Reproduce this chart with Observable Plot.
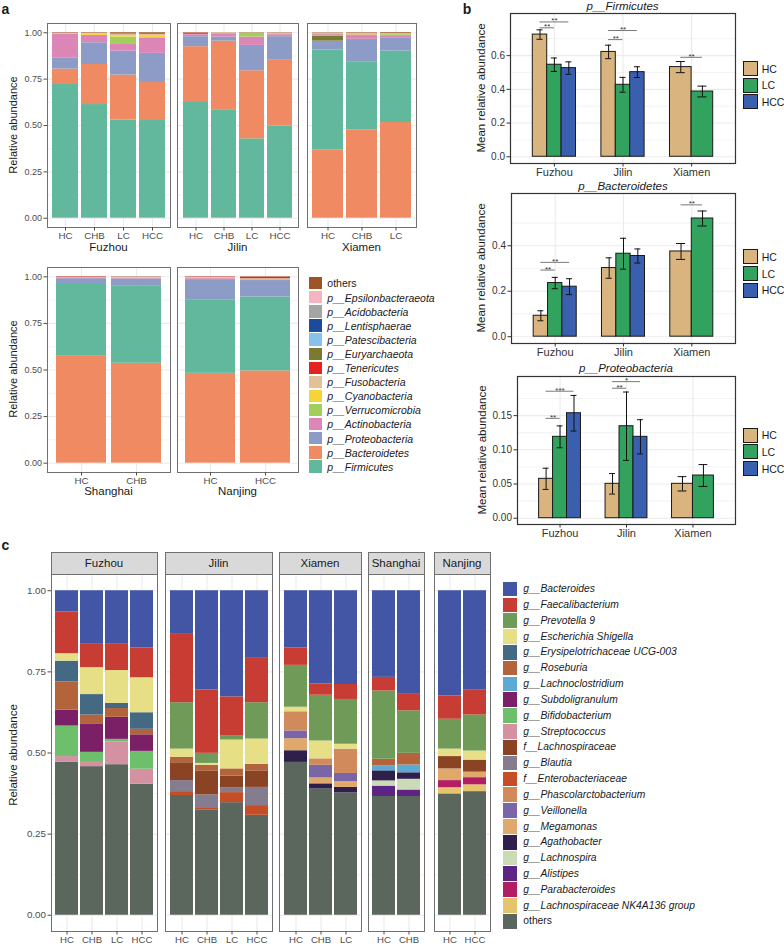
<!DOCTYPE html>
<html><head><meta charset="utf-8">
<script src="https://cdn.jsdelivr.net/npm/d3@7"></script>
<script src="https://cdn.jsdelivr.net/npm/@observablehq/plot@0.6"></script>
<style>
html,body{margin:0;padding:0;background:#fff;}
#root{position:relative;width:784px;height:947px;overflow:hidden;font-family:'Liberation Sans',Arial,Helvetica,sans-serif;color:#1a1a1a;background:#fff;}
#root svg{position:absolute;background:transparent;max-width:none;overflow:visible;}
.t{position:absolute;white-space:nowrap;line-height:1;}
.b{position:absolute;box-sizing:border-box;}
</style></head><body><div id="root"></div>
<script>
// ---------------- data: panel a (phylum) ----------------
const phylumLegend = ["others","p__Epsilonbacteraeota","p__Acidobacteria","p__Lentisphaerae","p__Patescibacteria","p__Euryarchaeota","p__Tenericutes","p__Fusobacteria","p__Cyanobacteria","p__Verrucomicrobia","p__Actinobacteria","p__Proteobacteria","p__Bacteroidetes","p__Firmicutes"];
const phylumColors = ["#9e5526","#f4b4c0","#a5a5a5","#1d4b9c","#86c3ea","#7a7a30","#e5221f","#e2c196","#f6d437","#a2cf5a","#dc86b8","#8d9cc7","#ef8a62","#62b89c"];

const aFuzhouGroups = ["HC","CHB","LC","HCC"];
const aFuzhouTaxa = ["p__Firmicutes","p__Bacteroidetes","p__Proteobacteria","p__Actinobacteria","p__Verrucomicrobia","p__Cyanobacteria","p__Fusobacteria","others"];
const aFuzhouValues = [
  [0.721,0.083,0.061,0.126,0.000,0.000,0.006,0.003],
  [0.613,0.216,0.117,0.040,0.000,0.006,0.005,0.003],
  [0.529,0.243,0.129,0.040,0.036,0.008,0.008,0.007],
  [0.527,0.205,0.157,0.082,0.004,0.010,0.007,0.008]];

const aJilinGroups = ["HC","CHB","LC","HCC"];
const aJilinTaxa = ["p__Firmicutes","p__Bacteroidetes","p__Proteobacteria","p__Actinobacteria","p__Verrucomicrobia","p__Fusobacteria","p__Tenericutes","others"];
const aJilinValues = [
  [0.624,0.301,0.054,0.011,0.000,0.002,0.006,0.002],
  [0.585,0.370,0.022,0.018,0.000,0.004,0.000,0.001],
  [0.428,0.367,0.137,0.045,0.021,0.000,0.000,0.002],
  [0.497,0.358,0.124,0.011,0.000,0.008,0.000,0.002]];

const aXiamenGroups = ["HC","CHB","LC"];
const aXiamenTaxa = ["p__Bacteroidetes","p__Firmicutes","p__Proteobacteria","p__Euryarchaeota","p__Actinobacteria","p__Verrucomicrobia","p__Fusobacteria","others"];
const aXiamenValues = [
  [0.367,0.540,0.048,0.027,0.008,0.005,0.003,0.002],
  [0.475,0.369,0.117,0.004,0.020,0.000,0.012,0.003],
  [0.516,0.385,0.072,0.000,0.007,0.010,0.006,0.004]];

const aShanghaiGroups = ["HC","CHB"];
const aShanghaiTaxa = ["p__Bacteroidetes","p__Firmicutes","p__Proteobacteria","p__Actinobacteria","p__Fusobacteria","p__Tenericutes","others"];
const aShanghaiValues = [
  [0.577,0.387,0.026,0.004,0.002,0.003,0.001],
  [0.536,0.413,0.039,0.004,0.006,0.000,0.002]];

const aNanjingGroups = ["HC","HCC"];
const aNanjingTaxa = ["p__Bacteroidetes","p__Firmicutes","p__Proteobacteria","p__Actinobacteria","p__Fusobacteria","p__Tenericutes","others"];
const aNanjingValues = [
  [0.482,0.392,0.111,0.005,0.007,0.002,0.001],
  [0.495,0.397,0.088,0.004,0.006,0.008,0.002]];

// ---------------- data: panel b (means ± error) ----------------
const bCities = ["Fuzhou","Jilin","Xiamen"];
const bGroups = ["HC","LC","HCC"];
const bColors = ["#d9b47e","#31a35e","#3b5faf"];
const firmicutesMean = [[0.725,0.546,0.526],[0.622,0.427,0.502],[0.532,0.387,null]];
const firmicutesErr  = [[0.028,0.040,0.037],[0.040,0.044,0.032],[0.033,0.032,null]];
const firmicutesSig  = [[0,"HC","LC",0.765,"**"],[0,"HC","HCC",0.800,"**"],[1,"HC","LC",0.695,"**"],[1,"HC","HCC",0.749,"**"],[2,"HC","LC",0.590,"**"]];
const bacteroidetesMean = [[0.092,0.236,0.220],[0.302,0.365,0.355],[0.375,0.520,null]];
const bacteroidetesErr  = [[0.022,0.025,0.035],[0.045,0.068,0.031],[0.035,0.033,null]];
const bacteroidetesSig  = [[0,"HC","LC",0.293,"**"],[0,"HC","HCC",0.327,"**"],[2,"HC","LC",0.580,"**"]];
const proteobacteriaMean = [[0.0576,0.1190,0.1535],[0.0503,0.1345,0.1190],[0.0503,0.0624,null]];
const proteobacteriaErr  = [[0.0155,0.0160,0.0260],[0.0150,0.0500,0.0250],[0.0105,0.0160,null]];
const proteobacteriaSig  = [[0,"HC","LC",0.146,"**"],[0,"HC","HCC",0.1857,"***"],[1,"HC","LC",0.190,"**"],[1,"HC","HCC",0.1997,"*"]];

// ---------------- data: panel c (genus) ----------------
const genusLegend = ["g__Bacteroides","g__Faecalibacterium","g__Prevotella 9","g__Escherichia Shigella","g__Erysipelotrichaceae UCG-003","g__Roseburia","g__Lachnoclostridium","g__Subdoligranulum","g__Bifidobacterium","g__Streptococcus","f__Lachnospiraceae","g__Blautia","f__Enterobacteriaceae","g__Phascolarctobacterium","g__Veillonella","g__Megamonas","g__Agathobacter","g__Lachnospira","g__Alistipes","g__Parabacteroides","g__Lachnospiraceae NK4A136 group","others"];
const genusColors = ["#4356a6","#c73d33","#6f9a57","#e7df86","#456883","#b4643a","#5aaad5","#7b1f66","#6dbf6b","#d491a1","#8b4423","#857c8f","#c64e26","#d08a5b","#7a66a6","#e0a96b","#2f1f4b","#cadbb5","#5e2485","#b21e63","#e4c46d","#5b665d"];

const cFuzhouGroups = ["HC","CHB","LC","HCC"];
const cFuzhouTaxa = ["others","g__Streptococcus","g__Bifidobacterium","g__Subdoligranulum","g__Roseburia","g__Erysipelotrichaceae UCG-003","g__Escherichia Shigella","g__Faecalibacterium","g__Bacteroides"];
const cFuzhouValues = [
  [0.472,0.017,0.094,0.049,0.087,0.064,0.023,0.129,0.065],
  [0.458,0.013,0.031,0.086,0.029,0.063,0.083,0.074,0.163],
  [0.464,0.070,0.008,0.068,0.027,0.016,0.101,0.081,0.165],
  [0.404,0.046,0.055,0.051,0.017,0.051,0.108,0.092,0.176]];

const cJilinGroups = ["HC","CHB","LC","HCC"];
const cJilinTaxa = ["others","f__Enterobacteriaceae","g__Blautia","f__Lachnospiraceae","g__Roseburia","g__Escherichia Shigella","g__Prevotella 9","g__Faecalibacterium","g__Bacteroides"];
const cJilinValues = [
  [0.369,0.012,0.034,0.055,0.017,0.025,0.143,0.213,0.132],
  [0.325,0.004,0.042,0.074,0.017,0.006,0.031,0.195,0.306],
  [0.347,0.031,0.014,0.037,0.022,0.089,0.012,0.121,0.327],
  [0.308,0.030,0.056,0.051,0.020,0.078,0.112,0.139,0.206]];

const cXiamenGroups = ["HC","CHB","LC"];
const cXiamenTaxa = ["others","g__Agathobacter","g__Megamonas","g__Veillonella","g__Phascolarctobacterium","g__Escherichia Shigella","g__Prevotella 9","g__Faecalibacterium","g__Bacteroides"];
const cXiamenValues = [
  [0.471,0.036,0.037,0.024,0.059,0.014,0.129,0.054,0.176],
  [0.389,0.016,0.018,0.039,0.020,0.055,0.141,0.035,0.287],
  [0.377,0.017,0.018,0.025,0.075,0.015,0.138,0.046,0.289]];

const cShanghaiGroups = ["HC","CHB"];
const cShanghaiTaxa = ["others","g__Alistipes","g__Lachnospira","g__Agathobacter","g__Lachnoclostridium","g__Roseburia","g__Prevotella 9","g__Faecalibacterium","g__Bacteroides"];
const cShanghaiValues = [
  [0.366,0.032,0.016,0.031,0.016,0.020,0.210,0.042,0.267],
  [0.366,0.020,0.033,0.020,0.024,0.036,0.131,0.053,0.317]];

const cNanjingGroups = ["HC","HCC"];
const cNanjingTaxa = ["others","g__Lachnospiraceae NK4A136 group","g__Parabacteroides","g__Megamonas","f__Lachnospiraceae","g__Escherichia Shigella","g__Prevotella 9","g__Faecalibacterium","g__Bacteroides"];
const cNanjingValues = [
  [0.374,0.019,0.022,0.036,0.038,0.023,0.092,0.072,0.324],
  [0.381,0.021,0.022,0.017,0.037,0.028,0.111,0.078,0.305]];

const stackTicks = [0, 0.25, 0.5, 0.75, 1];
const stackMinor = [0.125, 0.375, 0.625, 0.875];

// ---------------- helpers ----------------
const FONT = "'Liberation Sans', Arial, Helvetica, sans-serif";
const GRID = "#ebebeb";
const root = document.getElementById("root");

function txt(s, x, y, o = {}) {
  const d = document.createElement("div");
  d.className = "t";
  d.textContent = s;
  d.style.left = x + "px";
  d.style.top = y + "px";
  d.style.fontSize = (o.size || 11) + "px";
  if (o.weight) d.style.fontWeight = o.weight;
  if (o.italic) d.style.fontStyle = "italic";
  d.style.color = o.color || "#1a1a1a";
  const ax = o.anchor === "start" ? "0" : "-50%";
  d.style.transform = `translate(${ax}, -50%)` + (o.rotate ? ` rotate(${o.rotate}deg)` : "");
  root.appendChild(d);
}
function box(x, y, w, h, fill, border) {
  const d = document.createElement("div");
  d.className = "b";
  Object.assign(d.style, {left: x + "px", top: y + "px", width: w + "px", height: h + "px", background: fill});
  if (border) d.style.border = border;
  root.appendChild(d);
}
function put(svg, left, top) {
  svg.style.left = left + "px";
  svg.style.top = top + "px";
  root.appendChild(svg);
}

function stackPanel(groups, taxa, values, frame, showY, o) {
  const [x0, y0, x1, y1] = frame;
  const rows = [];
  groups.forEach((g, i) => taxa.forEach((t, j) => rows.push({group: g, taxon: t, value: values[i][j]})));
  const ml = showY ? 46 : 3, mr = 3, mt = 3, mb = 18;
  const svg = Plot.plot({
    width: x1 - x0 + ml + mr, height: y1 - y0 + mt + mb,
    marginLeft: ml, marginRight: mr, marginTop: mt, marginBottom: mb,
    style: {fontFamily: FONT, background: "transparent", overflow: "visible"},
    x: {domain: groups, paddingInner: 0.1, paddingOuter: 0.15},
    y: showY ? {domain: [-0.05, 1.05]} : {domain: [-0.05, 1.05], axis: null},
    color: {domain: o.legend, range: o.colors},
    marks: [
      Plot.ruleY(stackMinor, {stroke: GRID, strokeWidth: 0.6}),
      Plot.ruleY(stackTicks, {stroke: GRID, strokeWidth: 1.1}),
      Plot.ruleX(groups, {stroke: GRID, strokeWidth: 1.1}),
      Plot.barY(rows, {x: "group", y: "value", fill: "taxon", order: taxa}),
      Plot.frame({stroke: o.frameColor, strokeWidth: 1}),
      Plot.axisX({tickSize: 3.5, tickPadding: 1.5, fontSize: o.xFont, color: "#4d4d4d", label: null}),
      showY ? Plot.axisY(stackTicks, {tickSize: 3.5, tickPadding: 2, fontSize: o.yFont, color: "#4d4d4d", tickFormat: d3.format(".2f"), label: null}) : null
    ]
  });
  put(svg, x0 - ml, y0 - mt);
}

function meanPanel(means, errs, sig, frame, yDomain, ticks, minor, fmt) {
  const [x0, y0, x1, y1] = frame;
  const rows = [];
  means.forEach((arr, ci) => {
    const n = arr.filter(v => v != null).length;
    const w = 0.63 / n;
    let k = 0;
    bGroups.forEach((g, j) => {
      if (arr[j] == null) return;
      const a = ci + 1 - 0.315 + k * w;
      rows.push({city: bCities[ci], group: g, mean: arr[j], err: errs[ci][j], x1: a, x2: a + w, xc: a + w / 2, cap: w * 0.21});
      k++;
    });
  });
  const center = (ci, g) => rows.find(r => r.city === bCities[ci] && r.group === g).xc;
  const sigRows = sig.map(([ci, a, b, level, label]) => ({xa: center(ci, a), xb: center(ci, b), level, label}));
  const ml = 34, mr = 3, mt = 3, mb = 22;
  const svg = Plot.plot({
    width: x1 - x0 + ml + mr, height: y1 - y0 + mt + mb,
    marginLeft: ml, marginRight: mr, marginTop: mt, marginBottom: mb,
    style: {fontFamily: FONT, background: "transparent", overflow: "visible"},
    x: {type: "linear", domain: [0.36, 3.64]},
    y: {domain: yDomain},
    color: {domain: bGroups, range: bColors},
    marks: [
      Plot.ruleY(minor, {stroke: GRID, strokeWidth: 0.6}),
      Plot.ruleY(ticks, {stroke: GRID, strokeWidth: 1.1}),
      Plot.ruleX([1, 2, 3], {stroke: GRID, strokeWidth: 1.1}),
      Plot.rect(rows, {x1: "x1", x2: "x2", y1: 0, y2: "mean", fill: "group", stroke: "#1a1a1a", strokeWidth: 1}),
      Plot.ruleX(rows, {x: "xc", y1: d => d.mean - d.err, y2: d => d.mean + d.err, stroke: "#111", strokeWidth: 1}),
      Plot.ruleY(rows, {y: d => d.mean + d.err, x1: d => d.xc - d.cap, x2: d => d.xc + d.cap, stroke: "#111", strokeWidth: 1}),
      Plot.ruleY(rows, {y: d => d.mean - d.err, x1: d => d.xc - d.cap, x2: d => d.xc + d.cap, stroke: "#111", strokeWidth: 1}),
      Plot.ruleY(sigRows, {y: "level", x1: "xa", x2: "xb", stroke: "#555", strokeWidth: 0.8}),
      Plot.text(sigRows, {x: d => (d.xa + d.xb) / 2, y: "level", text: "label", lineAnchor: "middle", dy: -1, fontSize: 8, fill: "#333"}),
      Plot.frame({stroke: "#333", strokeWidth: 1.2}),
      Plot.axisX([1, 2, 3], {tickFormat: i => bCities[i - 1], tickSize: 3.5, tickPadding: 1, fontSize: 11, color: "#333", label: null}),
      Plot.axisY(ticks, {tickFormat: d3.format(fmt), tickSize: 3.5, tickPadding: 2, fontSize: 10, color: "#333", label: null})
    ]
  });
  put(svg, x0 - ml, y0 - mt);
}

// ---------------- panel a ----------------
const aOpts = {legend: phylumLegend, colors: phylumColors, frameColor: "#707070", xFont: 9.8, yFont: 9};
stackPanel(aFuzhouGroups, aFuzhouTaxa, aFuzhouValues, [47, 23, 170, 227], true, aOpts);
stackPanel(aJilinGroups, aJilinTaxa, aJilinValues, [177, 23, 298, 227], false, aOpts);
stackPanel(aXiamenGroups, aXiamenTaxa, aXiamenValues, [307, 23, 416, 227], false, aOpts);
stackPanel(aShanghaiGroups, aShanghaiTaxa, aShanghaiValues, [47, 267, 170, 472], true, aOpts);
stackPanel(aNanjingGroups, aNanjingTaxa, aNanjingValues, [177, 267, 298, 472], false, aOpts);
txt("Fuzhou", 108.5, 247.5, {size: 11.5});
txt("Jilin", 237.5, 247.5, {size: 11.5});
txt("Xiamen", 361.5, 247.5, {size: 11.5});
txt("Shanghai", 108.5, 491.5, {size: 11.5});
txt("Nanjing", 237.5, 491.5, {size: 11.5});
txt("Relative abundance", 13, 125, {size: 11, rotate: -90});
txt("Relative abundance", 13, 369, {size: 11, rotate: -90});
phylumLegend.forEach((name, i) => {
  const y = 277 + i * 14.1;
  box(309.3, y, 12.4, 12.4, phylumColors[i]);
  txt(name, 327.3, y + 6.4, {size: 10.5, anchor: "start", italic: name !== "others"});
});
txt("a", 5.5, 9, {size: 14, weight: "bold"});

// ---------------- panel b ----------------
meanPanel(firmicutesMean, firmicutesErr, firmicutesSig, [510, 13, 735, 163], [-0.04, 0.85], [0, 0.2, 0.4, 0.6], [0.1, 0.3, 0.5, 0.7], ".1f");
meanPanel(bacteroidetesMean, bacteroidetesErr, bacteroidetesSig, [511, 193, 735, 343], [-0.03, 0.63], [0, 0.2, 0.4], [0.1, 0.3, 0.5], ".1f");
meanPanel(proteobacteriaMean, proteobacteriaErr, proteobacteriaSig, [517, 376, 735, 524], [-0.0092, 0.2072], [0, 0.05, 0.1, 0.15], [0.025, 0.075, 0.125, 0.175], ".2f");
txt("p__Firmicutes", 622.5, 6.5, {size: 11.5, italic: true});
txt("p__Bacteroidetes", 623, 186.5, {size: 11.5, italic: true});
txt("p__Proteobacteria", 626, 368.5, {size: 11.5, italic: true});
txt("Mean relative abundance", 482, 88, {size: 11.5, rotate: -90});
txt("Mean relative abundance", 482, 268, {size: 11.5, rotate: -90});
txt("Mean relative abundance", 483, 450, {size: 11.5, rotate: -90});
[61, 249.3, 427.7].forEach(top => {
  bGroups.forEach((g, i) => {
    const y = top + i * 16.6;
    box(743.3, y, 14.6, 15, bColors[i], "1px solid #1a1a1a");
    txt(g, 761.7, y + 7.6, {size: 10.5, anchor: "start"});
  });
});
txt("b", 467, 9, {size: 14, weight: "bold"});

// ---------------- panel c ----------------
const cOpts = {legend: genusLegend, colors: genusColors, frameColor: "#707070", xFont: 9.6, yFont: 9.8};
const cFacets = [
  ["Fuzhou", cFuzhouGroups, cFuzhouTaxa, cFuzhouValues, [51, 157], true],
  ["Jilin", cJilinGroups, cJilinTaxa, cJilinValues, [165, 272], false],
  ["Xiamen", cXiamenGroups, cXiamenTaxa, cXiamenValues, [279, 361], false],
  ["Shanghai", cShanghaiGroups, cShanghaiTaxa, cShanghaiValues, [368, 424], false],
  ["Nanjing", cNanjingGroups, cNanjingTaxa, cNanjingValues, [434, 490], false]
];
cFacets.forEach(([city, groups, taxa, values, [xa, xb], showY]) => {
  box(xa - 0.5, 552, xb - xa + 1, 23, "#d9d9d9", "1px solid #707070");
  txt(city, (xa + xb) / 2, 563.5, {size: 11.5});
  stackPanel(groups, taxa, values, [xa, 574, xb, 931], showY, cOpts);
});
txt("Relative abundance", 13.5, 755, {size: 11.5, rotate: -90});
genusLegend.forEach((name, i) => {
  const y = 581.7 + i * 15.82;
  box(502.7, y, 14.7, 14.7, genusColors[i]);
  txt(name, 523.3, y + 7.5, {size: 10.3, anchor: "start", italic: name !== "others"});
});
txt("c", 5.5, 544.5, {size: 14, weight: "bold"});
</script></body></html>
